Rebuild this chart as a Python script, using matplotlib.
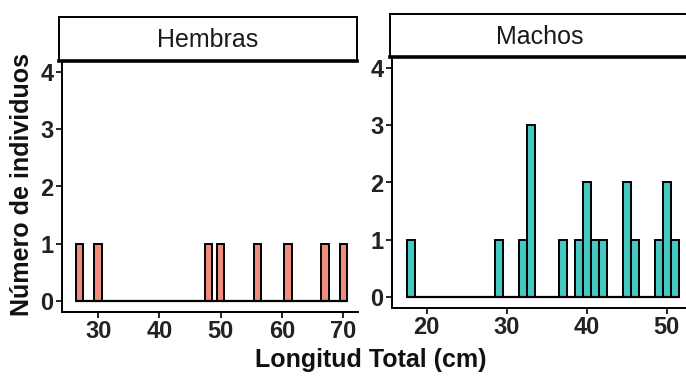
import numpy as np
import matplotlib
matplotlib.use('Agg')
import matplotlib.pyplot as plt

plt.rcParams['font.family'] = ['Liberation Sans', 'DejaVu Sans']

# datos
hembras_lt = [27, 30, 48, 50, 56, 61, 67, 70]
hembras_n = [1, 1, 1, 1, 1, 1, 1, 1]
machos_lt = [18, 29, 32, 33, 37, 39, 40, 41, 42, 45, 46, 49, 50, 51]
machos_n = [1, 1, 1, 3, 1, 1, 2, 1, 1, 2, 1, 1, 2, 1]

paneles = ['Hembras', 'Machos']
xticks_h = [30, 40, 50, 60, 70]
xticks_m = [20, 30, 40, 50]
yticks = [0, 1, 2, 3, 4]

W, H = 686, 378
fig = plt.figure(figsize=(W / 100, H / 100), dpi=100)


def px(x0, y0, x1, y1):
    # caja en pixeles (arriba-izquierda) -> fracciones de figura
    return [x0 / W, 1 - y1 / H, (x1 - x0) / W, (y1 - y0) / H]


def panel(box, strip_box, lt, n, ancho, color, xlim, xticks, titulo):
    ax = fig.add_axes(px(*box))
    ax.bar(lt, n, width=ancho, color=color, edgecolor='black',
           linewidth=1.4, zorder=3)
    # bins vacios: linea en cero como en ggplot
    ax.hlines(0, min(lt) - ancho / 2, max(lt) + ancho / 2, color='black',
              linewidth=1.6, zorder=4)
    ax.set_xlim(*xlim)
    ax.set_ylim(-0.19, 4.19)
    ax.set_xticks(xticks)
    ax.set_yticks(yticks)
    for s in ['top', 'right']:
        ax.spines[s].set_visible(False)
    for s in ['left', 'bottom']:
        ax.spines[s].set_linewidth(1.4)
    ax.tick_params(length=4, width=1.2, colors='black', labelsize=17,
                   labelcolor='#222222', pad=2)
    for lab in ax.get_xticklabels() + ax.get_yticklabels():
        lab.set_fontweight('bold')

    st = fig.add_axes(px(*strip_box))
    st.set_xticks([])
    st.set_yticks([])
    for s in st.spines.values():
        s.set_linewidth(1.4)
    st.spines['bottom'].set_linewidth(2.6)
    st.text(0.5, 0.47, titulo, ha='center', va='center', fontsize=18,
            color='#1a1a1a', transform=st.transAxes)
    return ax


ax1 = panel((62, 61, 358, 312), (59, 17, 357, 61), hembras_lt, hembras_n,
            1.2, '#EF8C7B', (24.1, 72.4), xticks_h, paneles[0])
ax2 = panel((392, 57, 690, 308), (390, 14, 690, 57), machos_lt, machos_n,
            1.05, '#45C8C1', (15.66, 52.9), xticks_m, paneles[1])

fig.text(371 / W, 1 - 360 / H, 'Longitud Total (cm)', ha='center',
         va='center', fontsize=18, fontweight='bold', color='#111111')
fig.text(22 / W, 1 - 185 / H, 'Número de individuos', ha='center',
         va='center', fontsize=18, fontweight='bold', rotation=90,
         color='#111111')

fig.savefig('out.png', dpi=100)
